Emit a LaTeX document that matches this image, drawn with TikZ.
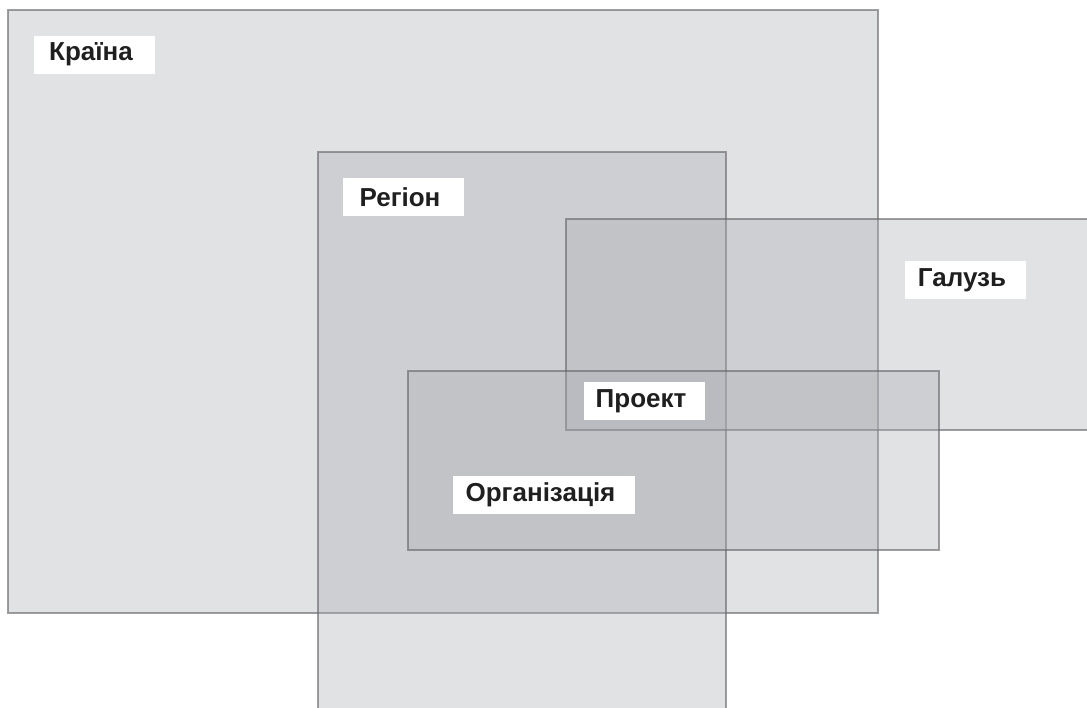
\documentclass[tikz,border=0pt]{standalone}
\usepackage{fontspec}
\setmainfont{Liberation Sans}
\begin{document}
\begin{tikzpicture}[x=1pt,y=-1pt,
  area/.style={fill={rgb,255:red,172;green,174;blue,180}, fill opacity=0.36,
               draw={rgb,255:red,100;green,100;blue,105}, draw opacity=0.62,
               line width=1.7pt},
  tag/.style={fill=white, text=black!88, inner sep=0pt, minimum height=38pt,
              font=\fontsize{26}{30}\selectfont\bfseries}
]
\useasboundingbox (0,0) rectangle (1087,707);
\clip (0,0) rectangle (1087,707);
% overlapping areas
\draw[area] (8,10) rectangle (878,613);
\draw[area] (318,152) rectangle (726,730);
\draw[area] (566,219) rectangle (1100,430);
\draw[area] (408,371) rectangle (939,550);
% labels
\newcommand\tagtext[1]{\hspace*{-7pt}#1}
\node[tag, minimum width=121pt] (country) at (94.5,54.5) {\tagtext{Країна}};
\node[tag, minimum width=121pt] (region) at (403.5,197) {\tagtext{Регіон}};
\node[tag, minimum width=121pt] (industry) at (965.5,280) {\tagtext{Галузь}};
\node[tag, minimum width=121pt] (project) at (644.5,401) {\tagtext{Проект}};
\node[tag, minimum width=182pt] (org) at (544,495) {\tagtext{Організація}};
\end{tikzpicture}
\end{document}
